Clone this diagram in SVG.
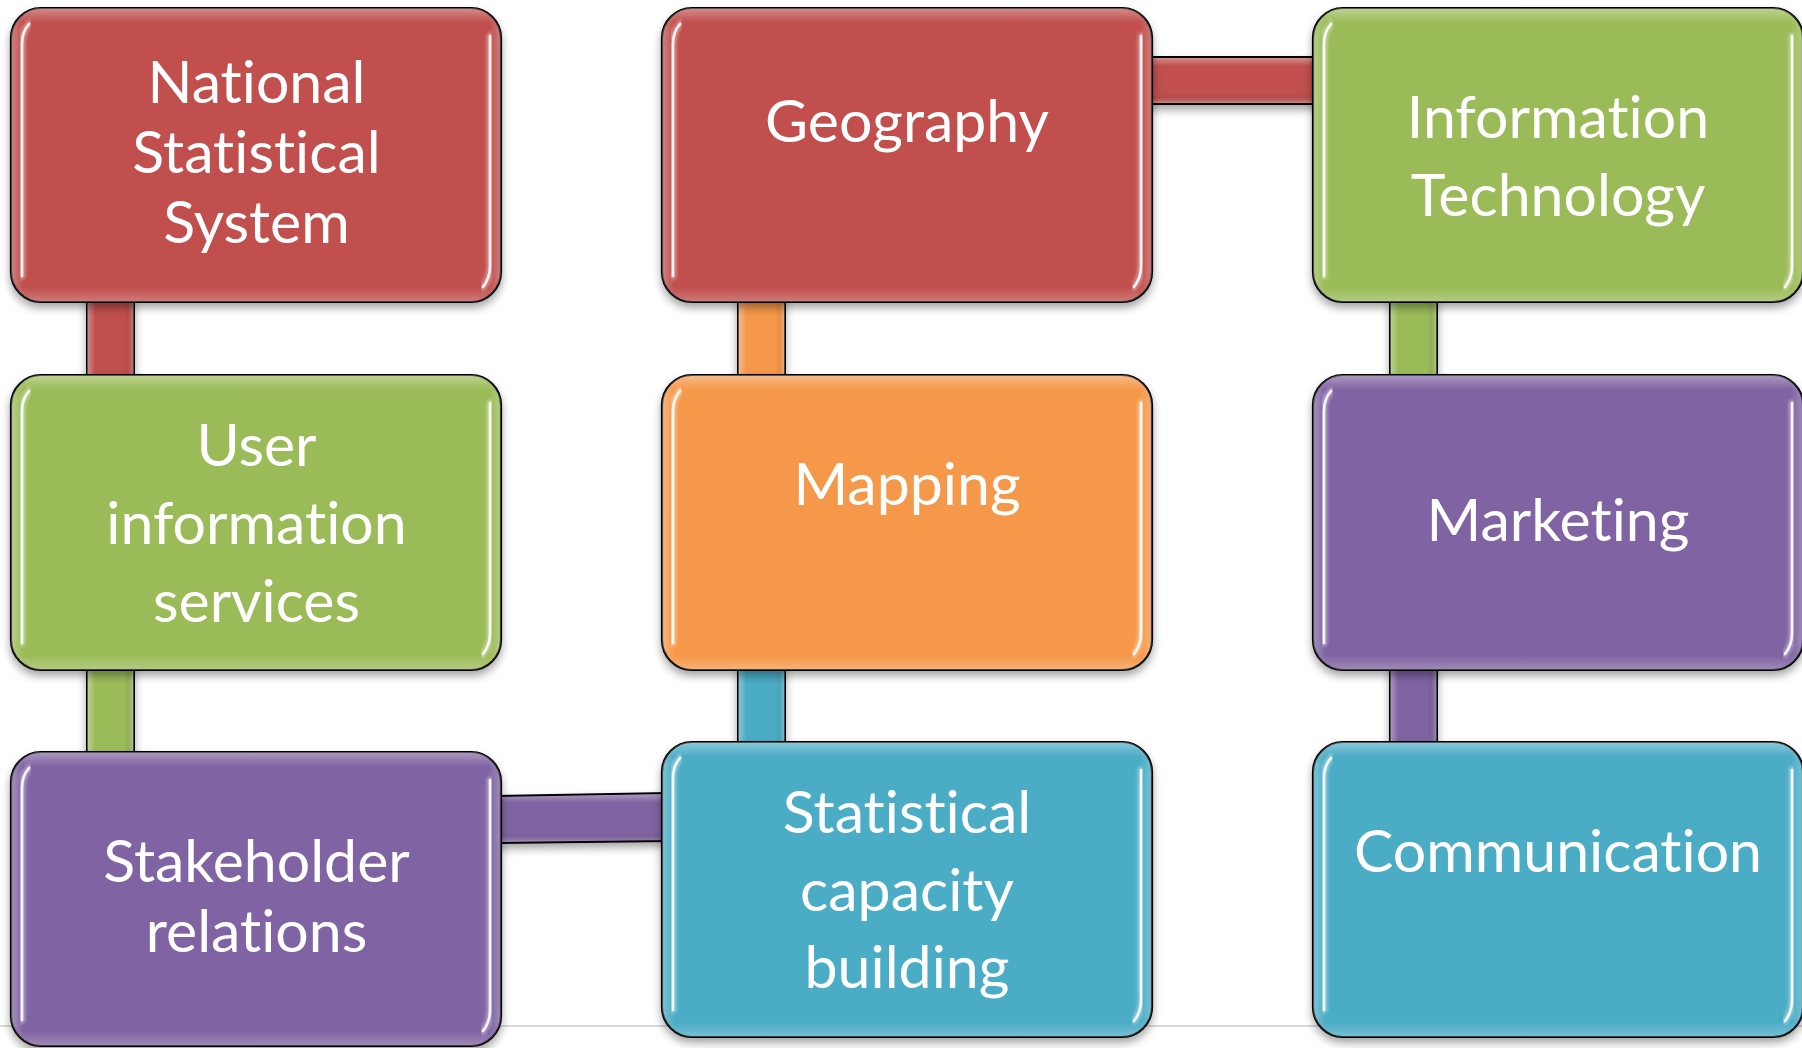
<svg xmlns="http://www.w3.org/2000/svg" xmlns:xlink="http://www.w3.org/1999/xlink" width="1802" height="1048" viewBox="0 0 1802 1048">
<defs>
<style>
.box{stroke:#000;stroke-width:2.2}
.rim{fill:url(#rimV);stroke:none}
.rimh{fill:url(#rimH);stroke:none}
.conn{stroke:#000;stroke-width:2}
.lbl{font-family:Lato,"Liberation Sans",sans-serif;font-size:59px;fill:#fff;text-anchor:middle;font-variant-ligatures:none;font-feature-settings:"liga" 0,"dlig" 0,"calt" 0,"clig" 0}
.red{fill:#C0504D}.green{fill:#9BBB59}.orange{fill:#F59848}.purple{fill:#8064A2}.blue{fill:#4BACC6}
.hl{fill:none;stroke:#fff;stroke-linecap:round}
</style>
<filter id="sh" x="-10%" y="-10%" width="120%" height="125%">
<feDropShadow dx="0" dy="5" stdDeviation="4" flood-color="#000" flood-opacity="0.35"/>
</filter>
<filter id="bl" x="-20%" y="-5%" width="140%" height="110%"><feGaussianBlur stdDeviation="1.6"/></filter>
<linearGradient id="rimV" x1="0" y1="0" x2="0" y2="1">
<stop offset="0" stop-color="#fff" stop-opacity="0.35"/>
<stop offset="0.05" stop-color="#fff" stop-opacity="0"/>
<stop offset="0.95" stop-color="#fff" stop-opacity="0"/>
<stop offset="1" stop-color="#fff" stop-opacity="0.25"/>
</linearGradient>
<linearGradient id="rimH" x1="0" y1="0" x2="1" y2="0">
<stop offset="0" stop-color="#fff" stop-opacity="0.3"/>
<stop offset="0.025" stop-color="#fff" stop-opacity="0"/>
<stop offset="0.975" stop-color="#fff" stop-opacity="0"/>
<stop offset="1" stop-color="#fff" stop-opacity="0.25"/>
</linearGradient>
<linearGradient id="cH" x1="0" y1="0" x2="1" y2="0">
<stop offset="0" stop-color="#fff" stop-opacity="0.35"/>
<stop offset="0.18" stop-color="#fff" stop-opacity="0"/>
<stop offset="0.8" stop-color="#000" stop-opacity="0"/>
<stop offset="1" stop-color="#fff" stop-opacity="0.3"/>
</linearGradient>
<linearGradient id="cV" x1="0" y1="0" x2="0" y2="1">
<stop offset="0" stop-color="#fff" stop-opacity="0.35"/>
<stop offset="0.18" stop-color="#fff" stop-opacity="0"/>
<stop offset="0.8" stop-color="#000" stop-opacity="0"/>
<stop offset="1" stop-color="#fff" stop-opacity="0.3"/>
</linearGradient>
<g id="gloss">
<path class="hl" d="M11,268 L11,36 Q11,24 18,16" stroke-width="7" stroke-opacity="0.35" filter="url(#bl)"/>
<path class="hl" d="M11,268 L11,36 Q11,24 18,16" stroke-width="2.6" stroke-opacity="0.9"/>
<path class="hl" d="M479,28 L479,258 Q479,270 472,279" stroke-width="7" stroke-opacity="0.35" filter="url(#bl)"/>
<path class="hl" d="M479,28 L479,258 Q479,270 472,279" stroke-width="2.6" stroke-opacity="0.9"/>
</g>
</defs>
<rect x="0" y="0" width="1802" height="1048" fill="#fff"/>
<line x1="0" y1="1026" x2="1802" y2="1026" stroke="#d9d9d9" stroke-width="2"/>

<g id="connectors">
<g filter="url(#sh)">
<rect class="conn red" x="87" y="296" width="47" height="84"/>
<rect class="conn green" x="87" y="664" width="47" height="94"/>
<rect class="conn orange" x="738" y="296" width="47" height="84"/>
<rect class="conn blue" x="738" y="664" width="47" height="84"/>
<rect class="conn green" x="1390" y="296" width="47" height="84"/>
<rect class="conn purple" x="1390" y="664" width="47" height="84"/>
<rect class="conn red" x="1146" y="57" width="172" height="47"/>
<polygon class="conn purple" points="496,796 668,793 668,841 496,843"/>
</g>
<rect x="87" y="296" width="47" height="84" fill="url(#cH)"/>
<rect x="87" y="664" width="47" height="94" fill="url(#cH)"/>
<rect x="738" y="296" width="47" height="84" fill="url(#cH)"/>
<rect x="738" y="664" width="47" height="84" fill="url(#cH)"/>
<rect x="1390" y="296" width="47" height="84" fill="url(#cH)"/>
<rect x="1390" y="664" width="47" height="84" fill="url(#cH)"/>
<rect x="1146" y="58" width="172" height="45" fill="url(#cV)"/>
<polygon points="496,797 668,794 668,840 496,842" fill="url(#cV)"/>
</g>

<g id="n-nss" transform="translate(11,8)">
<rect class="box red" width="490" height="294" rx="30" filter="url(#sh)"/>
<rect class="rim" width="490" height="294" rx="30"/>
<rect class="rimh" width="490" height="294" rx="30"/>
<use href="#gloss"/>
<text class="lbl" x="245.5" y="95">National</text>
<text class="lbl" x="245.5" y="165">Statistical</text>
<text class="lbl" x="245.5" y="235">System</text>
</g>

<g id="n-geography" transform="translate(662,8)">
<rect class="box red" width="490" height="294" rx="30" filter="url(#sh)"/>
<rect class="rim" width="490" height="294" rx="30"/>
<rect class="rimh" width="490" height="294" rx="30"/>
<use href="#gloss"/>
<text class="lbl" x="245" y="134">Geography</text>
</g>

<g id="n-it" transform="translate(1313,8)">
<rect class="box green" width="490" height="294" rx="30" filter="url(#sh)"/>
<rect class="rim" width="490" height="294" rx="30"/>
<rect class="rimh" width="490" height="294" rx="30"/>
<use href="#gloss"/>
<text class="lbl" x="245" y="130">Information</text>
<text class="lbl" x="245" y="208">Technology</text>
</g>

<g id="n-user" transform="translate(11,375)">
<rect class="box green" width="490" height="295" rx="30" filter="url(#sh)"/>
<rect class="rim" width="490" height="295" rx="30"/>
<rect class="rimh" width="490" height="295" rx="30"/>
<use href="#gloss"/>
<text class="lbl" x="245.5" y="91">User</text>
<text class="lbl" x="245.5" y="169">information</text>
<text class="lbl" x="245.5" y="247">services</text>
</g>

<g id="n-mapping" transform="translate(662,375)">
<rect class="box orange" width="490" height="295" rx="30" filter="url(#sh)"/>
<rect class="rim" width="490" height="295" rx="30"/>
<rect class="rimh" width="490" height="295" rx="30"/>
<use href="#gloss"/>
<text class="lbl" x="245" y="130">Mapping</text>
</g>

<g id="n-marketing" transform="translate(1313,375)">
<rect class="box purple" width="490" height="295" rx="30" filter="url(#sh)"/>
<rect class="rim" width="490" height="295" rx="30"/>
<rect class="rimh" width="490" height="295" rx="30"/>
<use href="#gloss"/>
<text class="lbl" x="245" y="166">Marketing</text>
</g>

<g id="n-stakeholder" transform="translate(11,752)">
<rect class="box purple" width="490" height="294" rx="30" filter="url(#sh)"/>
<rect class="rim" width="490" height="294" rx="30"/>
<rect class="rimh" width="490" height="294" rx="30"/>
<use href="#gloss"/>
<text class="lbl" x="245.5" y="130">Stakeholder</text>
<text class="lbl" x="245.5" y="200">relations</text>
</g>

<g id="n-capacity" transform="translate(662,742)">
<rect class="box blue" width="490" height="295" rx="30" filter="url(#sh)"/>
<rect class="rim" width="490" height="295" rx="30"/>
<rect class="rimh" width="490" height="295" rx="30"/>
<use href="#gloss"/>
<text class="lbl" x="245" y="91">Statistical</text>
<text class="lbl" x="245" y="169">capacity</text>
<text class="lbl" x="245" y="246">building</text>
</g>

<g id="n-communication" transform="translate(1313,742)">
<rect class="box blue" width="490" height="295" rx="30" filter="url(#sh)"/>
<rect class="rim" width="490" height="295" rx="30"/>
<rect class="rimh" width="490" height="295" rx="30"/>
<use href="#gloss"/>
<text class="lbl" x="245" y="130">Communication</text>
</g>
</svg>
